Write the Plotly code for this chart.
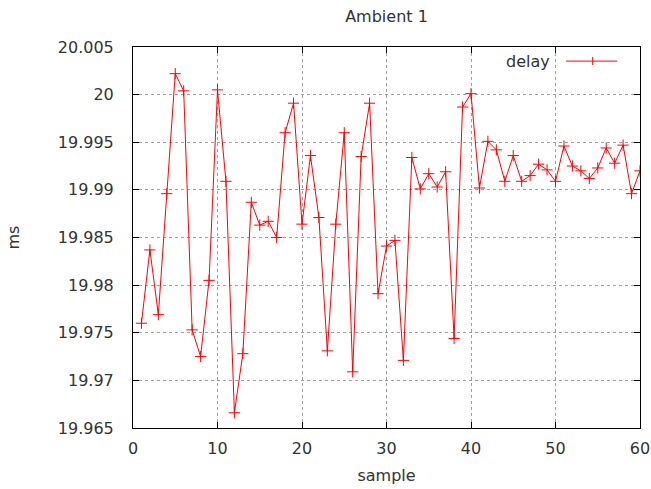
import plotly.graph_objects as go

samples = list(range(1, 61))
delay = [19.9760, 19.9837, 19.9769, 19.9896, 20.0022, 20.0004, 19.9753, 19.9725, 19.9805, 20.0005,
         19.9909, 19.9666, 19.9728, 19.9887, 19.9863, 19.9867, 19.9850, 19.9960, 19.9991, 19.9864,
         19.9936, 19.9871, 19.9731, 19.9864, 19.9960, 19.9709, 19.9935, 19.9991, 19.9791, 19.9841,
         19.9847, 19.9721, 19.9934, 19.9901, 19.9917, 19.9903, 19.9919, 19.9744, 19.9987, 20.0001,
         19.9902, 19.9951, 19.9942, 19.9909, 19.9936, 19.9909, 19.9915, 19.9927, 19.9921, 19.9909,
         19.9946, 19.9925, 19.9920, 19.9912, 19.9923, 19.9944, 19.9928, 19.9947, 19.9896, 19.9920]

y_tickvals = [19.965, 19.97, 19.975, 19.98, 19.985, 19.99, 19.995, 20.0, 20.005]
y_ticktext = ["19.965", "19.97", "19.975", "19.98", "19.985", "19.99", "19.995", "20", "20.005"]
x_tickvals = [0, 10, 20, 30, 40, 50, 60]

FONT = "DejaVu Sans"
TXT = "#333333"
FS = 16

fig = go.Figure()
fig.add_trace(go.Scatter(
    x=samples, y=delay, mode="lines+markers", name="delay",
    line=dict(color="#ff0000", width=1),
    marker=dict(symbol="cross-thin", size=8, line=dict(color="#ff0000", width=1)),
    showlegend=False,
))

axis_common = dict(
    showline=True, linecolor="#000000", linewidth=1, mirror="ticks",
    ticks="inside", ticklen=6, tickcolor="#000000",
    showgrid=True, gridcolor="#a0a0a0", griddash="dot", gridwidth=1,
    zeroline=False, automargin=False,
    tickfont=dict(family=FONT, size=FS, color=TXT),
)

fig.update_xaxes(range=[0, 60], tickvals=x_tickvals, ticklabelstandoff=6,
                 title=dict(text="sample", font=dict(family=FONT, size=FS, color=TXT), standoff=12),
                 **axis_common)
fig.update_yaxes(range=[19.965, 20.005], tickvals=y_tickvals, ticktext=y_ticktext,
                 ticklabelstandoff=15,
                 title=dict(text="ms", font=dict(family=FONT, size=FS, color=TXT), standoff=34),
                 **axis_common)

# legend emulation (gnuplot style: text left, sample right)
fig.add_annotation(xref="paper", yref="paper", x=0.827, y=0.963, xanchor="right", yanchor="middle",
                   text="delay", showarrow=False, font=dict(family=FONT, size=FS, color=TXT))
fig.add_shape(type="line", xref="paper", yref="paper", x0=0.854, x1=0.955, y0=0.963, y1=0.963,
              line=dict(color="#ff0000", width=1))
fig.add_shape(type="line", xref="paper", yref="paper", x0=0.9067, x1=0.9067, y0=0.9528, y1=0.9738,
              line=dict(color="#ff0000", width=1))

fig.update_layout(
    width=651, height=489, autosize=False,
    margin=dict(l=133, r=11, t=47, b=61, autoexpand=False),
    paper_bgcolor="#ffffff", plot_bgcolor="#ffffff",
    title=dict(text="Ambient 1", x=0.5, xref="paper", y=0.967, yanchor="middle",
               font=dict(family=FONT, size=FS, color=TXT)),
)

fig.write_html("out.html")
